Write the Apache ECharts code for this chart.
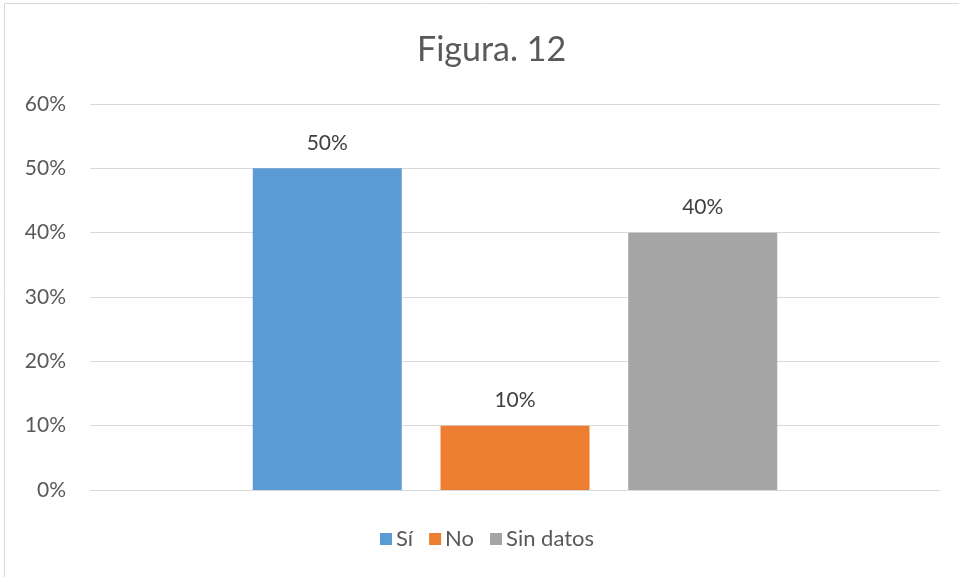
<!DOCTYPE html>
<html>
<head>
<meta charset="utf-8">
<script src="https://cdn.jsdelivr.net/npm/echarts@6/dist/echarts.min.js"></script>
<style>
  html, body { margin: 0; padding: 0; background: #fff; }
  #chart { width: 959px; height: 577px; }
</style>
</head>
<body>
<div id="chart"></div>
<script>
// data
const categories = ['']
const seriesNames = ['Sí', 'No', 'Sin datos']
const seriesValues = [50, 10, 40]
const seriesColors = ['#5b9bd5', '#ed7d31', '#a5a5a5']
const yTicks = [0, 10, 20, 30, 40, 50, 60]

const fontFamily = 'Lato, "Open Sans", sans-serif'

const chart = echarts.init(document.getElementById('chart'))
chart.setOption({
    backgroundColor: '#fff',
    animation: false,
    title: {
        text: 'Figura. 12',
        left: 412,
        top: 28,
        textStyle: {
            fontFamily: fontFamily,
            fontWeight: 'normal',
            fontSize: 34,
            color: '#595959'
        }
    },
    graphic: [{
        type: 'rect',
        shape: {x: 4.5, y: 3.5, width: 1000, height: 1000},
        style: {fill: 'none', stroke: '#d9d9d9', lineWidth: 1},
        silent: true
    }],
    legend: {
        bottom: 22,
        left: 375,
        itemWidth: 12,
        itemHeight: 12,
        itemGap: 16,
        icon: 'rect',
        textStyle: {fontFamily: fontFamily, fontSize: 22, color: '#595959', padding: [0, 0, 0, -1]},
        data: seriesNames
    },
    grid: {
        left: 90,
        right: 19,
        top: 104,
        bottom: 87,
        containLabel: false
    },
    xAxis: {
        type: 'category',
        data: categories,
        axisLine: {lineStyle: {color: '#d9d9d9', width: 1}},
        axisTick: {show: false},
        axisLabel: {show: false}
    },
    yAxis: {
        type: 'value',
        min: yTicks[0],
        max: yTicks[yTicks.length - 1],
        interval: 10,
        axisLine: {show: false},
        axisTick: {show: false},
        splitLine: {lineStyle: {color: '#d9d9d9', width: 1}},
        axisLabel: {
            formatter: v => v + '%',
            fontFamily: fontFamily,
            fontSize: 21,
            color: '#595959',
            margin: 24
        }
    },
    series: seriesNames.map((name, i) => ({
        name: name,
        type: 'bar',
        data: [seriesValues[i]],
        barWidth: 149,
        barGap: '26%',
        itemStyle: {color: seriesColors[i]},
        label: {
            show: true,
            position: 'top',
            distance: 15,
            formatter: p => p.value + '%',
            fontFamily: fontFamily,
            fontSize: 21,
            color: '#404040'
        }
    }))
})
</script>
</body>
</html>
